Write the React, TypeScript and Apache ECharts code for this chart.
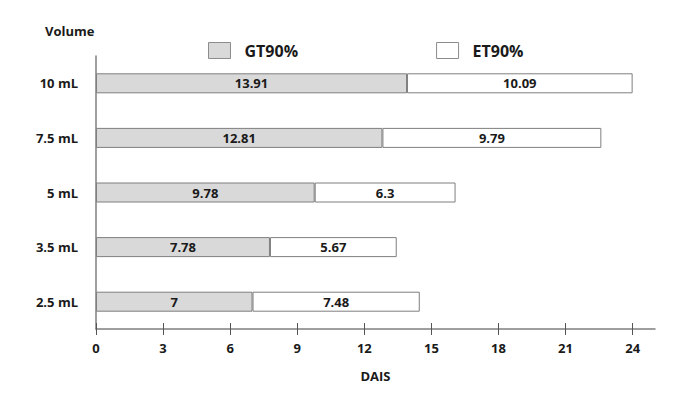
import React, { useEffect, useRef } from "react";
import * as echarts from "echarts";

const categories = ["2.5 mL", "3.5 mL", "5 mL", "7.5 mL", "10 mL"];
const gt90 = [7, 7.78, 9.78, 12.81, 13.91];
const et90 = [7.48, 5.67, 6.3, 9.79, 10.09];
const xTicks = [0, 3, 6, 9, 12, 15, 18, 21, 24];

const FONT = "'Open Sans', 'Liberation Sans', sans-serif";

export default function App() {
  const ref = useRef<HTMLDivElement>(null);
  useEffect(() => {
    if (!ref.current) return;
    const chart = echarts.init(ref.current, undefined, { renderer: "svg" });
    const labelStyle = {
      show: true,
      position: "inside",
      color: "#1a1a1a",
      fontWeight: "bold",
      fontSize: 13,
      fontFamily: FONT,
    };
    chart.setOption({
      animation: false,
      backgroundColor: "#ffffff",
      grid: { left: 96, right: 20, top: 56, bottom: 71 },
      title: {
        text: "Volume",
        left: 40,
        top: 19,
        textStyle: { fontSize: 13, fontWeight: "bold", color: "#1a1a1a", fontFamily: FONT },
      },
      legend: {
        left: 203,
        top: 37,
        icon: "rect",
        itemWidth: 22,
        itemHeight: 16,
        itemGap: 138,
        data: ["GT90%", "ET90%"],
        itemStyle: { borderColor: "#8c8c8c", borderWidth: 1 },
        textStyle: {
          fontSize: 16,
          fontWeight: "bold",
          color: "#1a1a1a",
          fontFamily: FONT,
          padding: [0, 0, 0, 9],
        },
      },
      xAxis: [
        {
          type: "value",
          min: 0,
          max: 25,
          interval: 3,
          name: "DAIS",
          nameLocation: "middle",
          nameGap: 40,
          nameTextStyle: { fontSize: 13, fontWeight: "bold", color: "#1a1a1a", fontFamily: FONT },
          splitLine: { show: false },
          axisLine: { show: true, lineStyle: { color: "#7f7f7f", width: 1.5 } },
          axisTick: { show: true, length: 6, customValues: xTicks, lineStyle: { color: "#555" } },
          axisLabel: {
            customValues: xTicks,
            fontSize: 13,
            fontWeight: "bold",
            color: "#1a1a1a",
            fontFamily: FONT,
            margin: 12,
          },
        },
        {
          type: "value",
          min: 0,
          max: 25,
          position: "bottom",
          splitLine: { show: false },
          axisLine: { show: false },
          axisTick: { show: true, inside: true, length: 6, customValues: xTicks, lineStyle: { color: "#555" } },
          axisLabel: { show: false },
        },
      ],
      yAxis: {
        type: "category",
        data: categories,
        axisLine: { show: true, lineStyle: { color: "#7f7f7f", width: 1.5 } },
        axisTick: { show: false },
        axisLabel: {
          fontSize: 13,
          fontWeight: "bold",
          color: "#1a1a1a",
          fontFamily: FONT,
          margin: 18,
        },
      },
      series: [
        {
          name: "GT90%",
          type: "bar",
          stack: "total",
          barWidth: 20,
          data: gt90,
          itemStyle: { color: "#d9d9d9", borderColor: "#7f7f7f", borderWidth: 1 },
          label: labelStyle,
        },
        {
          name: "ET90%",
          type: "bar",
          stack: "total",
          barWidth: 20,
          data: et90,
          itemStyle: { color: "#ffffff", borderColor: "#7f7f7f", borderWidth: 1 },
          label: labelStyle,
        },
      ],
    });
    return () => chart.dispose();
  }, []);
  return <div ref={ref} style={{ width: 675, height: 400, position: "absolute", left: 0, top: 0 }} />;
}
